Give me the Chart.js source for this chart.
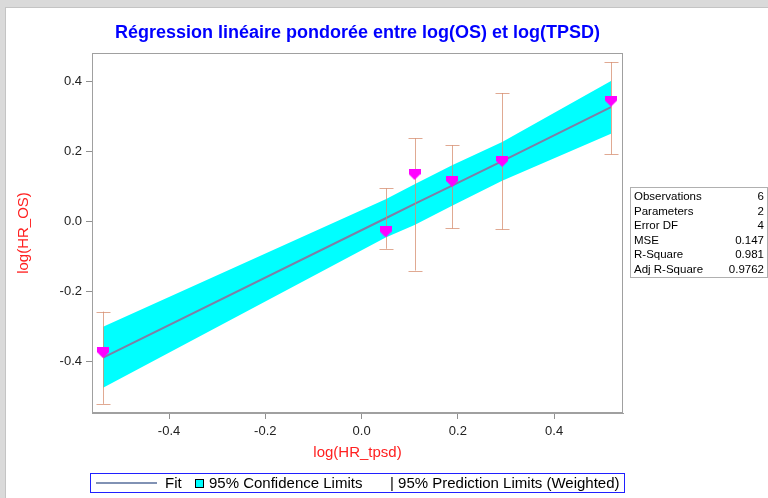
<!DOCTYPE html>
<html>
<head>
<meta charset="utf-8">
<script src="https://cdn.jsdelivr.net/npm/chart.js@4"></script>
<style>
  body { margin: 0; background: #dadada; font-family: "Liberation Sans", Arial, sans-serif; }
  #panel { position: absolute; left: 5px; top: 7px; width: 763px; height: 491px; background: #fff; border-top: 1px solid #c4c4c4; border-left: 1px solid #c4c4c4; }
  #wrap { position: absolute; left: 0; top: 0; width: 768px; height: 498px; }
  #stats { position: absolute; left: 630px; top: 187px; width: 136px; border: 1px solid #b0b0b0; font-size: 11.5px; color: #000; padding: 1px 0; }
  #stats div { display: flex; justify-content: space-between; height: 14.5px; line-height: 14.5px; padding: 0 3px 0 3px; }
  #legend { position: absolute; left: 90px; top: 473px; width: 533px; height: 18px; border: 1px solid #2020ff; font-size: 15px; line-height: 18px; color: #000; white-space: nowrap; }
  #legend span { position: absolute; top: 0; }
</style>
</head>
<body>
<div id="panel"></div>
<div id="wrap"><canvas id="regChart" width="768" height="498"></canvas></div>
<div id="stats"></div>
<div id="legend">
  <span style="left:5px;top:8px;width:61px;height:2px;background:#8192b4;"></span>
  <span style="left:74px;">Fit</span>
  <span style="left:104px;top:5px;width:7px;height:7px;background:#00ffff;border:1px solid #000;"></span>
  <span style="left:118px;">95% Confidence Limits</span>
  <span style="left:299px;">| 95% Prediction Limits (Weighted)</span>
</div>
<script>
// Données
const xVals    = [-0.537, 0.050, 0.110, 0.188, 0.292, 0.518];
const yVals    = [-0.374, -0.030, 0.134, 0.114, 0.171, 0.343];
const errLow   = [-0.520, -0.078, -0.140, -0.020, -0.023, 0.191];
const errHigh  = [-0.257, 0.094, 0.237, 0.217, 0.366, 0.454];
const fitVals  = [-0.388, 0.009, 0.050, 0.102, 0.172, 0.326];
const clLow    = [-0.474, -0.046, -0.010, 0.045, 0.116, 0.250];
const clHigh   = [-0.300, 0.063, 0.106, 0.160, 0.226, 0.400];
const xTicks   = [-0.4, -0.2, 0.0, 0.2, 0.4];
const yTicks   = [-0.4, -0.2, 0.0, 0.2, 0.4];
const statNames  = ['Observations', 'Parameters', 'Error DF', 'MSE', 'R-Square', 'Adj R-Square'];
const statValues = ['6', '2', '4', '0.147', '0.981', '0.9762'];

document.addEventListener('DOMContentLoaded', function() {
    // Tableau des statistiques
    const stats = document.getElementById('stats');
    statNames.forEach((name, i) => {
        const row = document.createElement('div');
        row.innerHTML = '<span>' + name + '</span><span>' + statValues[i] + '</span>';
        stats.appendChild(row);
    });

    // Marqueur magenta (forme "maison inversée")
    const marker = document.createElement('canvas');
    marker.width = 12; marker.height = 11;
    const mctx = marker.getContext('2d');
    mctx.fillStyle = '#ff00ff';
    mctx.beginPath();
    mctx.moveTo(0, 0); mctx.lineTo(12, 0); mctx.lineTo(12, 5);
    mctx.lineTo(6, 11); mctx.lineTo(0, 5); mctx.closePath();
    mctx.fill();

    const pts = arr => xVals.map((x, i) => ({x: x, y: arr[i]}));

    // Barres d'erreur (après la droite ajustée) + cadre du graphique
    const errorBars = {
        id: 'errorBars',
        afterDatasetDraw(chart, args) {
            if (chart.data.datasets[args.index].label !== 'Fit') return;
            const {ctx, scales: {x, y}} = chart;
            ctx.save();
            ctx.strokeStyle = 'rgba(214, 140, 110, 0.75)';
            ctx.lineWidth = 1;
            xVals.forEach((v, i) => {
                const px = Math.round(x.getPixelForValue(v)) + 0.5;
                const top = y.getPixelForValue(errHigh[i]);
                const bot = y.getPixelForValue(errLow[i]);
                ctx.beginPath();
                ctx.moveTo(px, top); ctx.lineTo(px, bot);
                ctx.moveTo(px - 7, Math.round(top) + 0.5); ctx.lineTo(px + 7, Math.round(top) + 0.5);
                ctx.moveTo(px - 7, Math.round(bot) + 0.5); ctx.lineTo(px + 7, Math.round(bot) + 0.5);
                ctx.stroke();
            });
            ctx.restore();
        },
        afterDraw(chart) {
            const {ctx, chartArea: a} = chart;
            ctx.save();
            ctx.strokeStyle = '#a0a0a0';
            ctx.lineWidth = 1;
            ctx.strokeRect(a.left + 0.5, a.top + 0.5, a.right - a.left - 1, a.bottom - a.top - 1);
            ctx.restore();
        }
    };

    const fmt = v => Math.abs(v) < 1e-9 ? '0.0' : v.toFixed(1);

    new Chart(document.getElementById('regChart'), {
        type: 'scatter',
        data: {
            datasets: [{
                label: 'CL bas',
                data: pts(clLow),
                showLine: true,
                borderWidth: 0,
                pointRadius: 0,
                fill: false,
                order: 3
            }, {
                label: '95% Confidence Limits',
                data: pts(clHigh),
                showLine: true,
                borderWidth: 0,
                pointRadius: 0,
                backgroundColor: '#00ffff',
                fill: '-1',
                order: 2
            }, {
                label: 'Fit',
                data: pts(fitVals),
                showLine: true,
                borderColor: '#7d7fa6',
                borderWidth: 2,
                pointRadius: 0,
                order: 1
            }, {
                label: 'Observations',
                data: pts(yVals),
                pointStyle: marker,
                pointRadius: 6,
                order: 0
            }]
        },
        options: {
            responsive: false,
            animation: false,
            layout: { padding: { left: 14, right: 145, top: 0, bottom: 30 } },
            plugins: {
                legend: { display: false },
                tooltip: { enabled: false },
                title: {
                    display: true,
                    fullSize: false,
                    text: 'Régression linéaire pondorée entre log(OS) et log(TPSD)',
                    color: '#0000ff',
                    font: { family: '"Liberation Sans", Arial', size: 18, weight: 'bold', lineHeight: 1.2 },
                    padding: { top: 22, bottom: 9.4 }
                }
            },
            scales: {
                x: {
                    type: 'linear',
                    min: -0.56,
                    max: 0.543,
                    afterFit: s => { s.height = 55; },
                    afterBuildTicks: s => { s.ticks = xTicks.map(v => ({value: v})); },
                    ticks: {
                        callback: fmt,
                        color: '#222',
                        padding: 5,
                        font: { family: '"Liberation Sans", Arial', size: 13 }
                    },
                    grid: { drawOnChartArea: false, tickLength: 6, color: '#909090' },
                    border: { color: '#a0a0a0' },
                    title: {
                        display: true,
                        text: 'log(HR_tpsd)',
                        color: '#ff2020',
                        padding: { top: 0, bottom: 6 },
                        font: { family: '"Liberation Sans", Arial', size: 15 }
                    }
                },
                y: {
                    type: 'linear',
                    min: -0.546,
                    max: 0.48,
                    afterFit: s => { s.width = 78; },
                    afterBuildTicks: s => { s.ticks = yTicks.map(v => ({value: v})); },
                    ticks: {
                        callback: fmt,
                        color: '#222',
                        padding: 4,
                        font: { family: '"Liberation Sans", Arial', size: 13 }
                    },
                    grid: { drawOnChartArea: false, tickLength: 6, color: '#909090' },
                    border: { color: '#a0a0a0' },
                    title: {
                        display: true,
                        text: 'log(HR_OS)',
                        color: '#ff2020',
                        padding: { top: 1, bottom: 0 },
                        font: { family: '"Liberation Sans", Arial', size: 15 }
                    }
                }
            }
        },
        plugins: [errorBars]
    });
});
</script>
</body>
</html>
